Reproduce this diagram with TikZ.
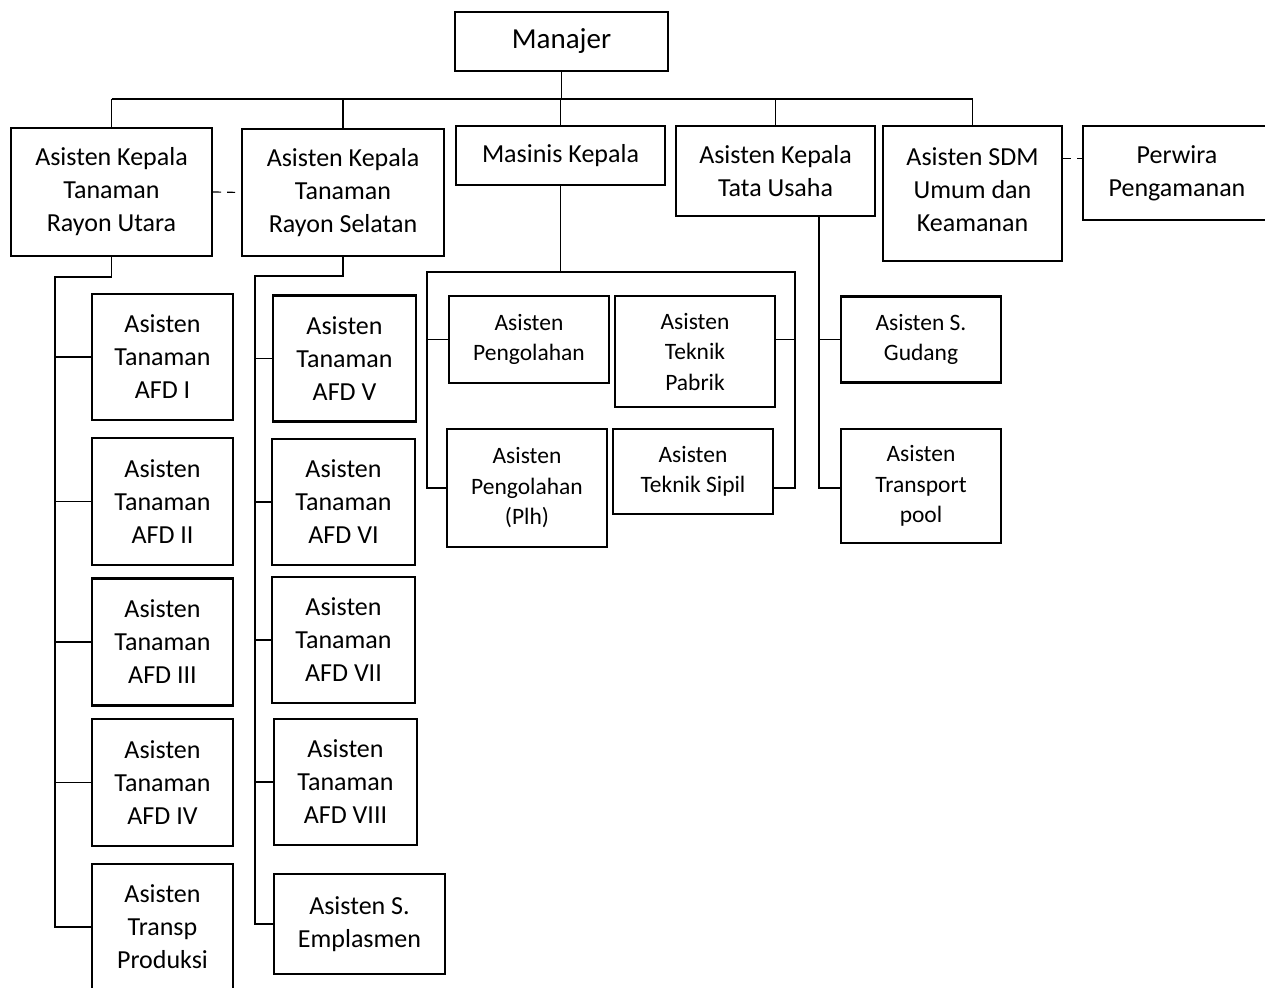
\documentclass[tikz,border=0pt]{standalone}
\usepackage{fontspec}
\setmainfont{Carlito}
\begin{document}
\begin{tikzpicture}[x=1pt,y=-1pt,
  box/.style={draw, rectangle, line width=2.2pt, inner sep=0pt, align=center,
    font=\fontsize{26}{33}\selectfont},
  sbox/.style={box, font=\fontsize{23.5}{30.5}\selectfont},
  conn/.style={line width=1.2pt},
  dconn/.style={line width=1.2pt, dash pattern=on 8pt off 6pt}]
\clip (0,0) rectangle (1265,987);
\fill[white] (0,0) rectangle (1265,987);
% top level
\node[box, font=\fontsize{29}{33}\selectfont, minimum width=213pt, minimum height=59pt] (man) at (561.5,41.5) {Manajer};
\node[box, minimum width=201pt, minimum height=128pt] (ru) at (111.5,192) {Asisten Kepala\\Tanaman\\Rayon Utara};
\node[box, minimum width=202pt, minimum height=127pt] (rs) at (343,192.5) {Asisten Kepala\\Tanaman\\Rayon Selatan};
\node[box, minimum width=209pt, minimum height=59pt] (mk) at (560.5,155.5) {Masinis Kepala};
\node[box, minimum width=199pt, minimum height=90pt] (tu) at (775.5,171) {Asisten Kepala\\Tata Usaha};
\node[box, minimum width=179pt, minimum height=135pt, text depth=8pt] (sdm) at (972.5,193.5) {Asisten SDM\\Umum dan\\Keamanan};
\node[box, minimum width=188pt, minimum height=94pt] (pw) at (1177,173) {Perwira\\Pengamanan};
% Rayon Utara children
\node[box, minimum width=141pt, minimum height=126pt] (afd1) at (162.5,357) {Asisten\\Tanaman\\AFD I};
\node[box, minimum width=141pt, minimum height=127pt] (afd2) at (162.5,501.5) {Asisten\\Tanaman\\AFD II};
\node[box, minimum width=141pt, minimum height=127pt] (afd3) at (162.5,642) {Asisten\\Tanaman\\AFD III};
\node[box, minimum width=141pt, minimum height=127pt] (afd4) at (162.5,782.5) {Asisten\\Tanaman\\AFD IV};
\node[box, minimum width=141pt, minimum height=126pt] (tprod) at (162.5,927) {Asisten\\Transp\\Produksi};
% Rayon Selatan children
\node[box, minimum width=143pt, minimum height=126pt] (afd5) at (344.5,358.5) {Asisten\\Tanaman\\AFD V};
\node[box, minimum width=143pt, minimum height=126pt] (afd6) at (343.5,502) {Asisten\\Tanaman\\AFD VI};
\node[box, minimum width=143pt, minimum height=126pt] (afd7) at (343.5,640) {Asisten\\Tanaman\\AFD VII};
\node[box, minimum width=143pt, minimum height=126pt] (afd8) at (345.5,782) {Asisten\\Tanaman\\AFD VIII};
\node[box, minimum width=171pt, minimum height=100pt] (emp) at (359.5,924) {Asisten S.\\Emplasmen};
% Masinis children
\node[sbox, minimum width=160pt, minimum height=87pt] (peng) at (529,339.5) {Asisten\\Pengolahan};
\node[sbox, minimum width=160pt, minimum height=111pt] (tpab) at (695,351.5) {Asisten\\Teknik\\Pabrik};
\node[sbox, minimum width=160pt, minimum height=118pt] (plh) at (527,488) {Asisten\\Pengolahan\\(Plh)};
\node[sbox, minimum width=160pt, minimum height=85pt] (tsip) at (693,471.5) {Asisten\\Teknik Sipil};
% Tata Usaha children
\node[sbox, minimum width=160pt, minimum height=86pt] (gud) at (921,339.5) {Asisten S.\\Gudang};
\node[sbox, minimum width=160pt, minimum height=114pt] (tpool) at (921,486) {Asisten\\Transport\\pool};
% top bus
\coordinate (busY) at (0,99);
\draw[conn] (man.south) -- (man.south |- busY);
\draw[conn] (ru.north |- busY) -- (sdm.north |- busY);
\foreach \n in {ru,rs,mk,tu,sdm} \draw[conn] (\n.north |- busY) -- (\n.north);
% dashed links
\draw[dconn] (ru.east) -- (rs.west);
\draw[dconn] ([yshift=35pt]sdm.east) -- ([yshift=35pt]sdm.east -| pw.west);
% Rayon Utara tree
\coordinate (lt) at (55,277);
\draw[conn] (ru.south) -- (ru.south |- lt) -- (lt) -- (lt |- tprod.west) -- (tprod.west);
\foreach \n in {afd1,afd2,afd3,afd4} \draw[conn] (lt |- \n.west) -- (\n.west);
% Rayon Selatan tree
\coordinate (rt) at (255,276);
\draw[conn] (rs.south) -- (rs.south |- rt) -- (rt) -- (rt |- emp.west) -- (emp.west);
\foreach \n in {afd5,afd6,afd7,afd8} \draw[conn] (rt |- \n.west) -- (\n.west);
% Masinis tree
\coordinate (mL) at (427,272);
\coordinate (mR) at (795,272);
\draw[conn] (mk.south) -- (mk.south |- mL);
\draw[conn] (plh.west) -- (mL |- plh.west) -- (mL) -- (mR) -- (mR |- plh.west) -- (tsip.east |- plh.west);
\draw[conn] (mL |- peng.west) -- (peng.west);
\draw[conn] (mR |- peng.east) -- (tpab.east |- peng.east);
% Tata Usaha tree
\coordinate (tuD) at ([xshift=43.5pt]tu.south);
\draw[conn] (tuD) -- (tuD |- plh.west) -- (tpool.west |- plh.west);
\draw[conn] (tuD |- gud.west) -- (gud.west);
\end{tikzpicture}
\end{document}
